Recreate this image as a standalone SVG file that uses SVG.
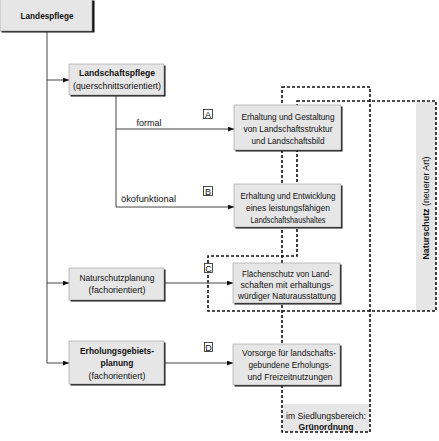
<svg xmlns="http://www.w3.org/2000/svg" width="439" height="441" viewBox="0 0 439 441">
<style>
  text { font-family: "Liberation Sans", Arial, sans-serif; font-size: 9.5px; fill: #111; text-anchor: middle; }
  .b { font-weight: bold; }
  .box { fill: #e6e6e6; stroke: #9a9a9a; stroke-width: 0.6; }
  .shadow { fill: #111; }
  .panel { fill: #e6e6e6; }
  .con { stroke: #444; stroke-width: 1; fill: none; }
  .dash { stroke: #111; stroke-width: 1.6; fill: none; stroke-dasharray: 3 2; }
  .lbl { fill: #fff; stroke: #222; stroke-width: 0.8; }
  .lt { font-size: 9px; }
</style>
<defs>
  <marker id="arr" markerUnits="userSpaceOnUse" markerWidth="6" markerHeight="5" refX="6" refY="2.5" orient="auto">
    <path d="M0,0 L6,2.5 L0,5 z" fill="#111"/>
  </marker>
</defs>
<rect width="439" height="441" fill="#fff"/>

<!-- dashed regions -->
<g id="regions">
  <rect class="panel" x="416" y="102" width="20" height="209"/>
  <rect class="panel" x="283" y="404" width="86" height="28"/>
  <path class="dash" d="M282,87 H370 V432 H282 Z"/>
  <path class="dash" d="M297,101 H436 V311 H208 V256 H297 Z"/>
  <text class="lt" transform="translate(428.5,208) rotate(-90)" textLength="103" lengthAdjust="spacingAndGlyphs"><tspan class="b">Naturschutz</tspan> (neuerer Art)</text>
  <text x="326" y="419" textLength="80" lengthAdjust="spacingAndGlyphs">im Siedlungsbereich:</text>
  <text class="b" x="326" y="430" textLength="55" lengthAdjust="spacingAndGlyphs">Grünordnung</text>
</g>

<!-- connectors -->
<g id="connectors">
  <path class="con" d="M47,32 V363"/>
  <path class="con" d="M47,80 H69" marker-end="url(#arr)"/>
  <path class="con" d="M47,283 H69" marker-end="url(#arr)"/>
  <path class="con" d="M47,363 H69" marker-end="url(#arr)"/>
  <path class="con" d="M116,96 V207"/>
  <path class="con" d="M116,129 H234" marker-end="url(#arr)"/>
  <path class="con" d="M116,207 H234" marker-end="url(#arr)"/>
  <path class="con" d="M165,283 H233" marker-end="url(#arr)"/>
  <path class="con" d="M165,363 H233" marker-end="url(#arr)"/>
  <text x="149" y="126" textLength="25" lengthAdjust="spacingAndGlyphs">formal</text>
  <text x="148.5" y="202" textLength="55" lengthAdjust="spacingAndGlyphs">ökofunktional</text>
</g>

<g id="labelA"><rect class="lbl" x="203.5" y="109.5" width="9" height="9"/><text class="lt" x="208" y="117.5">A</text></g>
<g id="labelB"><rect class="lbl" x="203.5" y="186.5" width="9" height="9"/><text class="lt" x="208" y="194.5">B</text></g>
<g id="labelC"><rect class="lbl" x="204.5" y="263.5" width="8" height="9"/><text class="lt" x="208.5" y="271.5">C</text></g>
<g id="labelD"><rect class="lbl" x="204.5" y="342.5" width="8" height="9"/><text class="lt" x="208.5" y="350.5">D</text></g>

<g id="landespflege">
  <rect class="shadow" x="1.5" y="0.5" width="93" height="32"/>
  <rect class="box" x="0" y="-1" width="92" height="32"/>
  <text class="b" x="47" y="19" textLength="53" lengthAdjust="spacingAndGlyphs">Landespflege</text>
</g>

<g id="landschaftspflege">
  <rect class="shadow" x="70.5" y="65.5" width="95" height="31"/>
  <rect class="box" x="69" y="64" width="95" height="31"/>
  <text class="b" x="117" y="76" textLength="76" lengthAdjust="spacingAndGlyphs">Landschaftspflege</text>
  <text x="117" y="88.5" textLength="88" lengthAdjust="spacingAndGlyphs">(querschnittsorientiert)</text>
</g>

<g id="naturschutzplanung">
  <rect class="shadow" x="70.5" y="269.5" width="95" height="32"/>
  <rect class="box" x="69" y="268" width="95" height="32"/>
  <text x="117" y="281" textLength="75" lengthAdjust="spacingAndGlyphs">Naturschutzplanung</text>
  <text x="117" y="292.5" textLength="57" lengthAdjust="spacingAndGlyphs">(fachorientiert)</text>
</g>

<g id="erholungsgebietsplanung">
  <rect class="shadow" x="70.5" y="342.5" width="95" height="43"/>
  <rect class="box" x="69" y="341" width="95" height="43"/>
  <text class="b" x="117" y="353.5" textLength="74" lengthAdjust="spacingAndGlyphs">Erholungsgebiets-</text>
  <text class="b" x="117" y="366" textLength="33" lengthAdjust="spacingAndGlyphs">planung</text>
  <text x="117" y="378.5" textLength="57" lengthAdjust="spacingAndGlyphs">(fachorientiert)</text>
</g>

<g id="boxA">
  <rect class="shadow" x="235.5" y="106.5" width="107" height="45"/>
  <rect class="box" x="234" y="105" width="107" height="45"/>
  <text x="288" y="119.5" textLength="93" lengthAdjust="spacingAndGlyphs">Erhaltung und Gestaltung</text>
  <text x="288" y="131.5" textLength="89" lengthAdjust="spacingAndGlyphs">von Landschaftsstruktur</text>
  <text x="288" y="143.5" textLength="73" lengthAdjust="spacingAndGlyphs">und Landschaftsbild</text>
</g>

<g id="boxB">
  <rect class="shadow" x="235.5" y="185.5" width="107" height="43"/>
  <rect class="box" x="234" y="184" width="107" height="43"/>
  <text x="288" y="198.5" textLength="95" lengthAdjust="spacingAndGlyphs">Erhaltung und Entwicklung</text>
  <text x="288" y="210.5" textLength="84" lengthAdjust="spacingAndGlyphs">eines leistungsfähigen</text>
  <text x="288" y="222.5" textLength="75" lengthAdjust="spacingAndGlyphs">Landschaftshaushaltes</text>
</g>

<g id="boxC">
  <rect class="shadow" x="234.5" y="264.5" width="107" height="40"/>
  <rect class="box" x="233" y="263" width="107" height="40"/>
  <text x="287" y="276.5" textLength="90" lengthAdjust="spacingAndGlyphs">Flächenschutz von Land-</text>
  <text x="287" y="287.5" textLength="93" lengthAdjust="spacingAndGlyphs">schaften mit erhaltungs-</text>
  <text x="287" y="298.5" textLength="98" lengthAdjust="spacingAndGlyphs">würdiger Naturausstattung</text>
</g>

<g id="boxD">
  <rect class="shadow" x="234.5" y="345.5" width="107" height="41"/>
  <rect class="box" x="233" y="344" width="107" height="41"/>
  <text x="289" y="355.5" textLength="94" lengthAdjust="spacingAndGlyphs">Vorsorge für landschafts-</text>
  <text x="290" y="367.5" textLength="83" lengthAdjust="spacingAndGlyphs">gebundene Erholungs-</text>
  <text x="290" y="379.5" textLength="85" lengthAdjust="spacingAndGlyphs">und Freizeitnutzungen</text>
</g>
</svg>
